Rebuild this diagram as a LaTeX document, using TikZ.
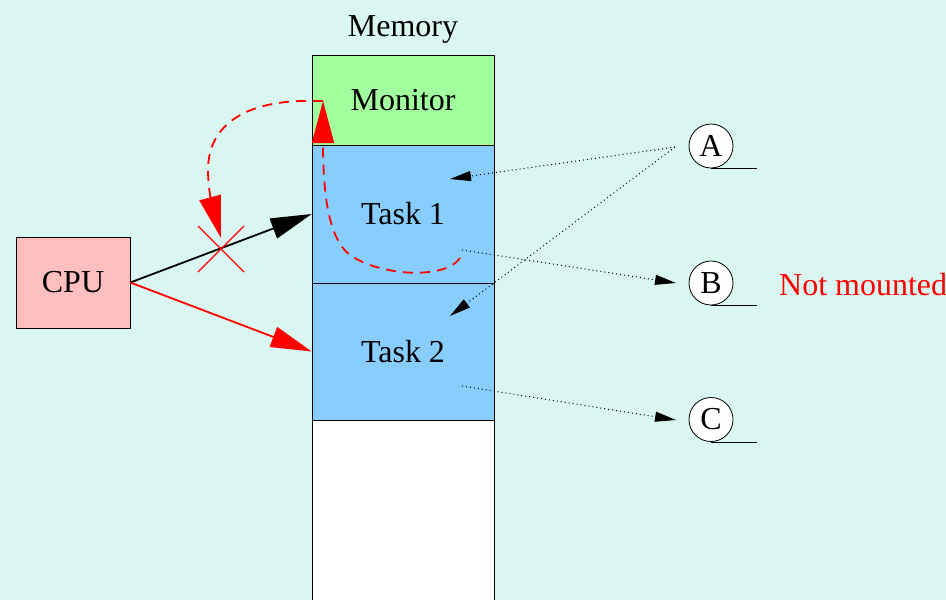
\documentclass[tikz,border=0pt]{standalone}
\usepackage{fontspec}
\setmainfont{Liberation Serif}
\usetikzlibrary{arrows.meta}
\definecolor{bgmint}{RGB}{218,246,240}
\definecolor{monitorgreen}{RGB}{162,255,158}
\definecolor{taskblue}{RGB}{135,206,255}
\definecolor{cpupink}{RGB}{255,191,191}

\begin{document}
\begin{tikzpicture}[x=1pt,y=-1pt]
	 \tikzstyle{label}=[inner sep=0pt,font=\fontsize{32}{37}\selectfont]
	 \tikzstyle{block}=[label,draw,line width=0.6pt]
	 \tikzstyle{letter}=[label,draw,circle,fill=white,minimum size=44pt,line width=0.8pt]
	 \tikzstyle{call}=[line width=1.8pt,-{Triangle[length=41pt,width=21pt]}]
	 \tikzstyle{jump}=[red,line width=1.8pt,dash pattern=on 10pt off 7pt,-{Triangle[length=42pt,width=22pt]}]
	 \tikzstyle{link}=[line width=1pt,dash pattern=on 1pt off 3pt,-{Triangle[length=21pt,width=10pt]}]

	\useasboundingbox (0,0) rectangle (946,600);
	\fill[bgmint] (0,0) rectangle (946,600);
	\clip (0,0) rectangle (946,600);

	% memory column
	\node[label,anchor=base] (mem) at (403,36) {Memory};
	\node[block,fill=monitorgreen,minimum width=182pt,minimum height=90pt] (monitor) at (403,100) {Monitor};
	\node[block,fill=taskblue,minimum width=182pt,minimum height=138pt] (task1) at (403,214) {Task 1};
	\node[block,fill=taskblue,minimum width=182pt,minimum height=137pt] (task2) at (403,351.5) {Task 2};
	\node[block,fill=white,minimum width=182pt,minimum height=190pt] (free) at (403,515) {};

	\node[block,fill=cpupink,minimum width=114pt,minimum height=91pt] (cpu) at (73,282.5) {CPU};

	% modules
	\node[letter] (A) at (711,146) {A};
	\node[letter] (B) at (711,283) {B};
	\node[letter] (C) at (711,419.5) {C};
	\draw[line width=0.8pt] (A.south) -- ++(46,0);
	\draw[line width=0.8pt] (B.south) -- ++(46,0);
	\draw[line width=0.8pt] (C.south) -- ++(46,0);
	\node[label,red,anchor=west] (nm) at (779,285) {Not mounted};

	\coordinate (a0) at (675,147);
	\coordinate (b0) at (676,283);
	\coordinate (c0) at (676,420);
	\coordinate (t1in) at (450,179);
	\coordinate (t2in) at (450,316);
	\coordinate (t1out) at (462,250);
	\coordinate (t2out) at (462,386);
	\draw[link] (a0) -- (t1in);
	\draw[link] (a0) -- (t2in);
	\draw[link] (t1out) -- (b0);
	\draw[link] (t2out) -- (c0);

	% cpu calls
	\draw[call] (cpu.east) -- (task1.west);
	\draw[call,red] (cpu.east) -- (task2.west);

	% jumps to monitor and back
	\coordinate (ret) at (460,258);
	\coordinate (mon) at (323,101);
	\coordinate (cross) at (221,249);
	\draw[jump] (ret) .. controls (445,280) and (380,276) .. (350,255)
		.. controls (330,240) and (323,200) .. (mon);
	\draw[jump] (mon) -- (300,101) .. controls (245,103) and (208,125) .. (208,170)
		.. controls (208,192) and (214,212) .. (221,238);
	\draw[red,line width=1.3pt] (cross) +(-23,-23) -- +(23,23);
	\draw[red,line width=1.3pt] (cross) +(-23,23) -- +(23,-23);
\end{tikzpicture}
\end{document}
